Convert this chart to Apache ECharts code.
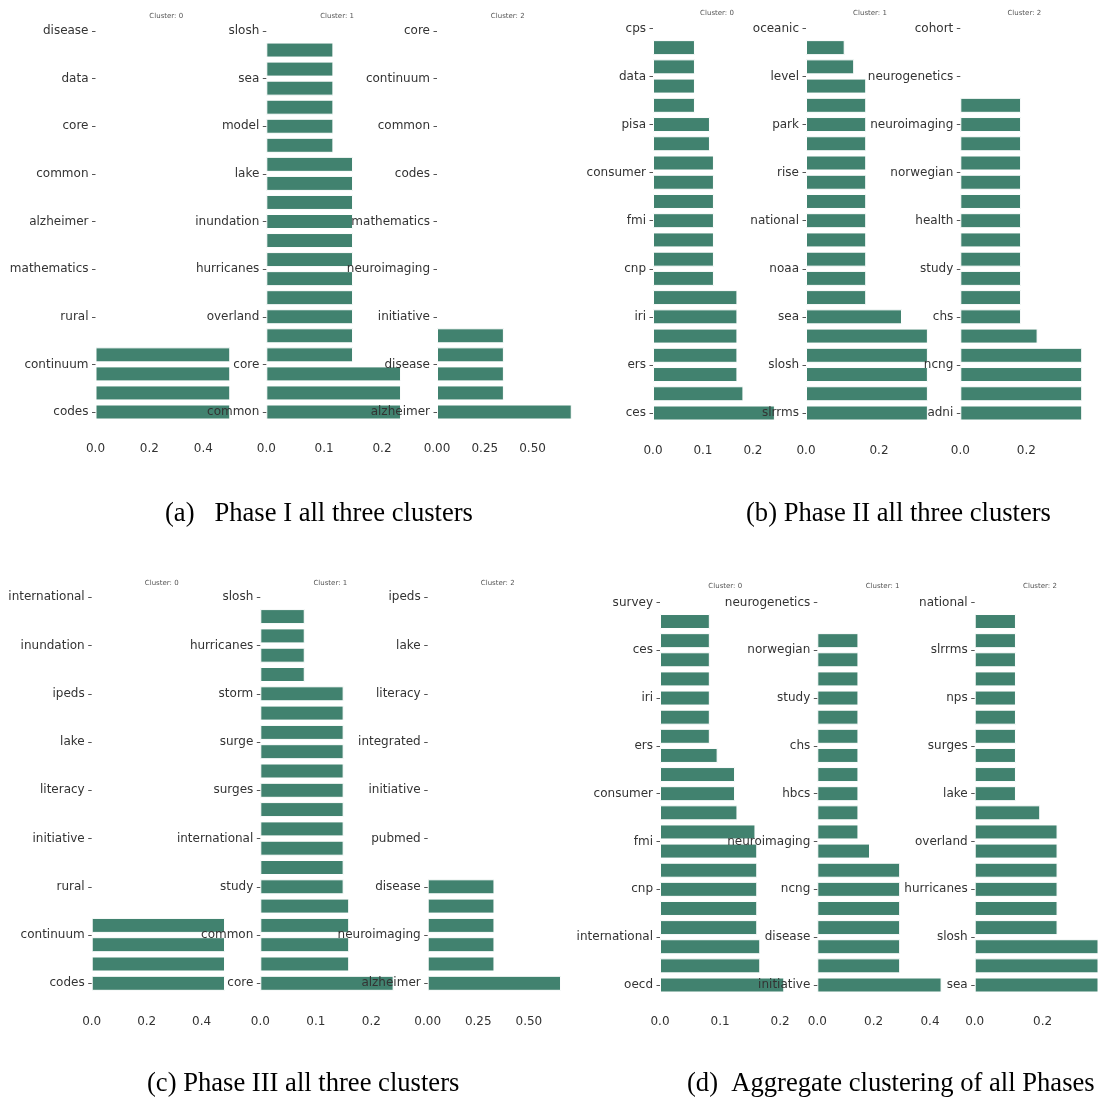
<!DOCTYPE html>
<html>
<head>
<meta charset="utf-8">
<script src="https://cdn.jsdelivr.net/npm/echarts@6/dist/echarts.min.js"></script>
<style>
  html, body { margin: 0; padding: 0; background: #fff; }
  #chart { width: 1098px; height: 1097px; }
</style>
</head>
<body>
<div id="chart"></div>
<script>
// tick labels, bottom tick first (ticks sit at 0, 2.5, 5 ... 20)
const phase1Terms0 = ['codes', 'continuum', 'rural', 'mathematics', 'alzheimer', 'common', 'core', 'data', 'disease'];
const phase1Terms1 = ['common', 'core', 'overland', 'hurricanes', 'inundation', 'lake', 'model', 'sea', 'slosh'];
const phase1Terms2 = ['alzheimer', 'disease', 'initiative', 'neuroimaging', 'mathematics', 'codes', 'common', 'continuum', 'core'];
const phase2Terms0 = ['ces', 'ers', 'iri', 'cnp', 'fmi', 'consumer', 'pisa', 'data', 'cps'];
const phase2Terms1 = ['slrrms', 'slosh', 'sea', 'noaa', 'national', 'rise', 'park', 'level', 'oceanic'];
const phase2Terms2 = ['adni', 'ncng', 'chs', 'study', 'health', 'norwegian', 'neuroimaging', 'neurogenetics', 'cohort'];
const phase3Terms0 = ['codes', 'continuum', 'rural', 'initiative', 'literacy', 'lake', 'ipeds', 'inundation', 'international'];
const phase3Terms1 = ['core', 'common', 'study', 'international', 'surges', 'surge', 'storm', 'hurricanes', 'slosh'];
const phase3Terms2 = ['alzheimer', 'neuroimaging', 'disease', 'pubmed', 'initiative', 'integrated', 'literacy', 'lake', 'ipeds'];
const aggTerms0 = ['oecd', 'international', 'cnp', 'fmi', 'consumer', 'ers', 'iri', 'ces', 'survey'];
const aggTerms1 = ['initiative', 'disease', 'ncng', 'neuroimaging', 'hbcs', 'chs', 'study', 'norwegian', 'neurogenetics'];
const aggTerms2 = ['sea', 'slosh', 'hurricanes', 'overland', 'lake', 'surges', 'nps', 'slrrms', 'national'];

// bar values, bar 0 (bottom) to bar 19 (top)
const phase1Vals0 = [0.5, 0.5, 0.5, 0.5, 0, 0, 0, 0, 0, 0, 0, 0, 0, 0, 0, 0, 0, 0, 0, 0];
const phase1Vals1 = [0.233, 0.233, 0.233, 0.15, 0.15, 0.15, 0.15, 0.15, 0.15, 0.15, 0.15, 0.15, 0.15, 0.15, 0.116, 0.116, 0.116, 0.116, 0.116, 0.116];
const phase1Vals2 = [0.705, 0.35, 0.35, 0.35, 0.35, 0, 0, 0, 0, 0, 0, 0, 0, 0, 0, 0, 0, 0, 0, 0];
const phase2Vals0 = [0.244, 0.181, 0.169, 0.169, 0.169, 0.169, 0.169, 0.122, 0.122, 0.122, 0.122, 0.122, 0.122, 0.122, 0.114, 0.114, 0.084, 0.084, 0.084, 0.084];
const phase2Vals1 = [0.334, 0.334, 0.334, 0.334, 0.334, 0.263, 0.165, 0.165, 0.165, 0.165, 0.165, 0.165, 0.165, 0.165, 0.165, 0.165, 0.165, 0.165, 0.132, 0.106];
const phase2Vals2 = [0.369, 0.369, 0.369, 0.369, 0.234, 0.184, 0.184, 0.184, 0.184, 0.184, 0.184, 0.184, 0.184, 0.184, 0.184, 0.184, 0.184, 0, 0, 0];
const phase3Vals0 = [0.485, 0.485, 0.485, 0.485, 0, 0, 0, 0, 0, 0, 0, 0, 0, 0, 0, 0, 0, 0, 0, 0];
const phase3Vals1 = [0.24, 0.16, 0.16, 0.16, 0.16, 0.15, 0.15, 0.15, 0.15, 0.15, 0.15, 0.15, 0.15, 0.15, 0.15, 0.15, 0.08, 0.08, 0.08, 0.08];
const phase3Vals2 = [0.659, 0.33, 0.33, 0.33, 0.33, 0.33, 0, 0, 0, 0, 0, 0, 0, 0, 0, 0, 0, 0, 0, 0];
const aggVals0 = [0.207, 0.167, 0.167, 0.162, 0.162, 0.162, 0.162, 0.162, 0.159, 0.129, 0.125, 0.125, 0.096, 0.083, 0.083, 0.083, 0.083, 0.083, 0.083, 0.083];
const aggVals1 = [0.441, 0.294, 0.294, 0.294, 0.294, 0.294, 0.294, 0.187, 0.146, 0.146, 0.146, 0.146, 0.146, 0.146, 0.146, 0.146, 0.146, 0.146, 0.146, 0];
const aggVals2 = [0.366, 0.366, 0.366, 0.244, 0.244, 0.244, 0.244, 0.244, 0.244, 0.193, 0.1215, 0.1215, 0.1215, 0.1215, 0.1215, 0.1215, 0.1215, 0.1215, 0.1215, 0.1215];

const clusterNames = ['Cluster: 0', 'Cluster: 1', 'Cluster: 2'];

const pageWidth = 1098;
const barColor = '#41826f';
const textColor = '#333';
const fontFamily = '"DejaVu Sans", sans-serif';

// one entry per sub-figure: where its three axes sit on the page
const panels = [
    {
        terms: [phase1Terms0, phase1Terms1, phase1Terms2],
        values: [phase1Vals0, phase1Vals1, phase1Vals2],
        ticks: [0.2, 0.1, 0.25], decimals: [1, 1, 2],
        zeroX: [95.5, 266.3, 437], width: 141.5,
        y0: 412, unit: 19.05, xLabelY: 449, titleY: 16,
        caption: '(a)   Phase I all three clusters', captionX: 165, captionY: 514
    },
    {
        terms: [phase2Terms0, phase2Terms1, phase2Terms2],
        values: [phase2Vals0, phase2Vals1, phase2Vals2],
        ticks: [0.1, 0.2, 0.2], decimals: [1, 1, 1],
        zeroX: [653, 806, 960.3], width: 128,
        y0: 413, unit: 19.23, xLabelY: 450.5, titleY: 13,
        caption: '(b) Phase II all three clusters', captionX: 746, captionY: 514
    },
    {
        terms: [phase3Terms0, phase3Terms1, phase3Terms2],
        values: [phase3Vals0, phase3Vals1, phase3Vals2],
        ticks: [0.2, 0.1, 0.25], decimals: [1, 1, 2],
        zeroX: [91.7, 260.3, 427.7], width: 140,
        y0: 983.3, unit: 19.3, xLabelY: 1021.5, titleY: 583,
        caption: '(c) Phase III all three clusters', captionX: 147, captionY: 1084
    },
    {
        terms: [aggTerms0, aggTerms1, aggTerms2],
        values: [aggVals0, aggVals1, aggVals2],
        ticks: [0.1, 0.2, 0.2], decimals: [1, 1, 1],
        zeroX: [660, 817.3, 974.7], width: 130.5,
        y0: 985, unit: 19.13, xLabelY: 1021.5, titleY: 586,
        caption: '(d)  Aggregate clustering of all Phases', captionX: 687, captionY: 1084
    }
];

// y axis runs from -1.5 to 20.5 in half steps; bar p sits on index 2p+3
const halfSteps = [];
for (let i = 0; i < 45; i++) halfSteps.push(String(i));
const isTick = (idx) => idx >= 3 && (idx - 3) % 5 === 0;

const grid = [], xAxis = [], yAxis = [], series = [], graphic = [];

panels.forEach((pn) => {
    const top = pn.y0 - 20.5 * pn.unit;
    const height = 22 * pn.unit;
    const bottom = top + height;
    for (let c = 0; c < 3; c++) {
        const gi = grid.length;
        const vals = pn.values[c];
        const terms = pn.terms[c];
        const dec = pn.decimals[c];
        // matplotlib-like autoscale: 5% margin past the longest bar
        let xMax = Math.max(...vals) * 1.05;
        let width = pn.width;
        // the last axis runs off the page in the original; cut it at the edge keeping the scale
        const overflow = pn.zeroX[c] + width - pageWidth;
        if (overflow > 0) {
            xMax = xMax * (width - overflow) / width;
            width = width - overflow;
        }
        grid.push({ left: pn.zeroX[c], top: top, width: width, height: height, containLabel: false });
        xAxis.push({
            type: 'value', gridIndex: gi, min: 0, max: xMax,
            interval: pn.ticks[c],
            axisLine: { show: false }, axisTick: { show: false }, splitLine: { show: false },
            axisLabel: {
                color: textColor, fontSize: 12, fontFamily: fontFamily,
                margin: pn.xLabelY - bottom - 6, showMaxLabel: false,
                formatter: (v) => v.toFixed(dec)
            }
        });
        yAxis.push({
            type: 'category', gridIndex: gi, data: halfSteps, boundaryGap: false, z: 5,
            axisLine: { show: false }, splitLine: { show: false },
            axisTick: { show: true, interval: (i) => isTick(i), length: 3.5, lineStyle: { color: '#555', width: 1 } },
            axisLabel: {
                interval: (i) => isTick(i), margin: 7, color: textColor, fontSize: 12, fontFamily: fontFamily,
                formatter: (v) => terms[(Number(v) - 3) / 5]
            }
        });
        const data = halfSteps.map(() => null);
        vals.forEach((v, p) => { data[2 * p + 3] = v; });
        series.push({
            type: 'bar', xAxisIndex: gi, yAxisIndex: gi, data: data,
            barWidth: Math.round(pn.unit * 0.8),
            itemStyle: { color: barColor, borderColor: '#ffffff', borderWidth: 1 },
            silent: true
        });
        graphic.push({
            type: 'text', x: pn.zeroX[c] + pn.width / 2, y: pn.titleY,
            style: { text: clusterNames[c], align: 'center', verticalAlign: 'middle', fontSize: 7, fontFamily: fontFamily, fill: '#555' }
        });
    }
    graphic.push({
        type: 'text', x: pn.captionX, y: pn.captionY,
        style: { text: pn.caption, align: 'left', verticalAlign: 'middle', fontSize: 26.6, fontFamily: '"Liberation Serif", "Times New Roman", serif', fill: '#000' }
    });
});

const chart = echarts.init(document.getElementById('chart'));
chart.setOption({
    animation: false,
    backgroundColor: '#ffffff',
    grid: grid,
    xAxis: xAxis,
    yAxis: yAxis,
    series: series,
    graphic: graphic
});
</script>
</body>
</html>
